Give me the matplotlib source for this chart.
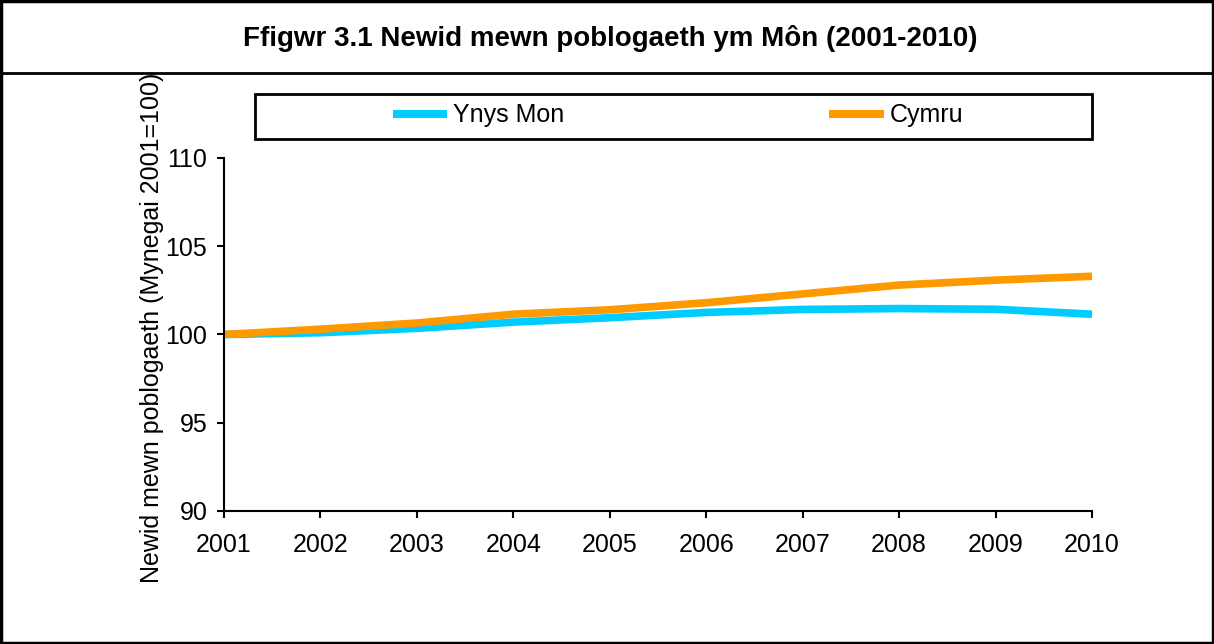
import matplotlib.pyplot as plt
from matplotlib.lines import Line2D
from matplotlib.patches import Rectangle

# data
years = [2001, 2002, 2003, 2004, 2005, 2006, 2007, 2008, 2009, 2010]
ynys_mon = [100.0, 100.1, 100.35, 100.7, 100.95, 101.25, 101.42, 101.47, 101.43, 101.15]
cymru = [100.0, 100.3, 100.65, 101.15, 101.4, 101.8, 102.3, 102.8, 103.08, 103.3]
names = ['Ynys Mon', 'Cymru']
colors = ['#00CCFF', '#FF9900']

plt.rcParams['font.family'] = ['Liberation Sans', 'DejaVu Sans']

W, H = 1214, 644
fig = plt.figure(figsize=(W / 100, H / 100), dpi=100)

def fx(px):
    return px / W

def fy(py):
    return 1 - py / H

# axes placed in pixel terms
l, r, t, b = 224, 1092, 158, 511
ax = fig.add_axes([fx(l), fy(b), fx(r - l), (b - t) / H])

for vals, name, c in zip([ynys_mon, cymru], names, colors):
    ax.plot(years, vals, color=c, lw=5.5, solid_capstyle='butt', label=name)

ax.set_xlim(2001, 2010)
ax.set_ylim(90, 110)
ax.set_xticks(years)
ax.set_yticks([90, 95, 100, 105, 110])
ax.tick_params(labelsize=18, width=1.5, length=5, direction='out')
ax.tick_params(axis='x', pad=11)
ax.tick_params(axis='y', pad=7)
for s in ['top', 'right']:
    ax.spines[s].set_visible(False)
for s in ['left', 'bottom']:
    ax.spines[s].set_linewidth(1.5)
ax.set_ylabel('Newid mewn poblogaeth (Mynegai 2001=100)', fontsize=18)
ax.yaxis.set_label_coords(-0.069, 0.52)

# legend box drawn by hand to match the spacing
fig.add_artist(Rectangle((fx(255), fy(139)), fx(1092 - 255), (139 - 94) / H, fill=False,
                         edgecolor='black', lw=2, transform=fig.transFigure))
for (x0, x1), name, c in zip([(393, 447), (829, 884)], names, colors):
    fig.add_artist(Line2D([fx(x0), fx(x1)], [fy(114), fy(114)], color=c, lw=5.8,
                          solid_capstyle='butt', transform=fig.transFigure))
    fig.text(fx(x1 + 6), fy(115), name, fontsize=18, ha='left', va='center')

# title band and outer frame
fig.text(0.503, fy(39), 'Ffigwr 3.1 Newid mewn poblogaeth ym Môn (2001-2010)',
         ha='center', va='center', fontsize=20, fontweight='bold')
fig.add_artist(Line2D([0, 1], [fy(73), fy(73)], color='black', lw=2,
                      transform=fig.transFigure))
fig.add_artist(Rectangle((0.001, 0.002), 0.998, 0.996, fill=False,
                         edgecolor='black', lw=2.5, transform=fig.transFigure))

fig.savefig('out.png', dpi=100)
